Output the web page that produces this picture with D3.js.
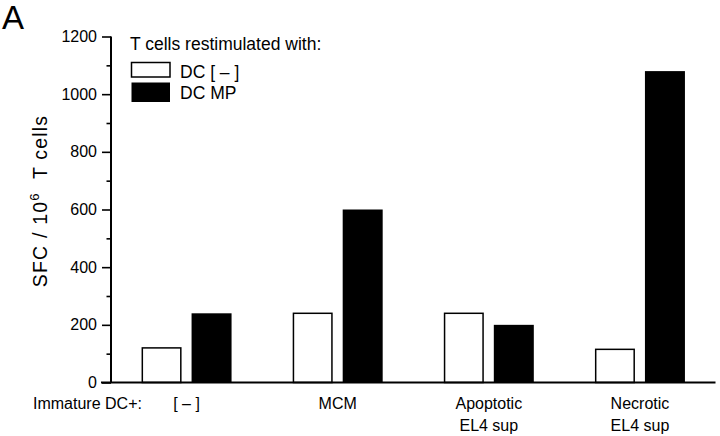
<!DOCTYPE html>
<html>
<head>
<meta charset="utf-8">
<script src="https://cdn.jsdelivr.net/npm/d3@7/dist/d3.min.js"></script>
<style>
  html, body { margin: 0; padding: 0; background: #fff; }
  svg { display: block; font-family: "Liberation Sans", Arial, Helvetica, sans-serif; }
</style>
</head>
<body>
<svg id="chart" width="720" height="436"></svg>
<script>
// ---- data ----
const categories = ["[ – ]", "MCM", "Apoptotic\nEL4 sup", "Necrotic\nEL4 sup"];
const seriesNames = ["DC [ – ]", "DC MP"];
const dcMinus = [120, 240, 240, 115];
const dcMP = [240, 600, 200, 1080];
const yTicks = [0, 100, 200, 300, 400, 500, 600, 700, 800, 900, 1000, 1100, 1200];
const yLabelTicks = [0, 200, 400, 600, 800, 1000, 1200];
const seriesFill = ["#ffffff", "#000000"];

const svg = d3.select("#chart");

const x = d3.scaleBand().domain(categories).range([111, 715.5]).padding(0);
const xs = d3.scaleBand().domain(seriesNames).range([0, 90]).paddingInner(0.2).paddingOuter(0);
const y = d3.scaleLinear().domain([0, 1200]).range([382.5, 36.5]);

// panel letter
svg.append("text").attr("x", 2).attr("y", 28.5)
  .attr("font-size", 33).text("A");

// y axis
const yAxis = d3.axisLeft(y)
  .tickValues(yTicks)
  .tickSize(9)
  .tickPadding(5)
  .tickFormat(d => yLabelTicks.includes(d) ? d : "");
const gy = svg.append("g").attr("transform", "translate(111,0)").call(yAxis);
gy.select(".domain").attr("stroke", "#000").attr("stroke-width", 2)
  .attr("d", `M0,${y(1200)}V${y(0)}`);
gy.selectAll(".tick line").attr("stroke", "#000").attr("stroke-width", 1.6)
  .attr("x2", d => yLabelTicks.includes(d) ? -9 : -4.5);
gy.selectAll(".tick text").attr("font-size", 16).attr("fill", "#000")
  .attr("font-family", "'Liberation Sans', Arial, sans-serif");

// y axis title
const yt = svg.append("text")
  .attr("transform", `translate(47,201) rotate(-90)`)
  .attr("text-anchor", "middle")
  .attr("font-size", 19.5)
  .attr("letter-spacing", 1.2);
yt.append("tspan").text("SFC / 10");
yt.append("tspan").attr("font-size", 13).attr("dy", -8).text("6");
yt.append("tspan").attr("dy", 8).text("\u00a0\u00a0T cells");

// bars
const groups = svg.append("g").selectAll("g")
  .data(categories.map((c, i) => ({ c, vals: [dcMinus[i], dcMP[i]] })))
  .join("g")
  .attr("transform", d => `translate(${x(d.c) + x.bandwidth() / 2 - 45},0)`);

groups.selectAll("rect")
  .data(d => d.vals.map((v, j) => ({ s: seriesNames[j], v, j })))
  .join("rect")
  .attr("x", d => xs(d.s) + (d.j === 0 ? 0.75 : 0))
  .attr("width", d => xs.bandwidth() - (d.j === 0 ? 1.5 : 0))
  .attr("y", d => y(d.v))
  .attr("height", d => y(0) - y(d.v))
  .attr("fill", d => seriesFill[d.j])
  .attr("stroke", d => d.j === 0 ? "#000" : "none")
  .attr("stroke-width", 1.5);

// x baseline
svg.append("line").attr("x1", 101).attr("x2", 715.5)
  .attr("y1", y(0)).attr("y2", y(0))
  .attr("stroke", "#000").attr("stroke-width", 2);

// category labels
const xl = svg.append("g").attr("font-size", 16).attr("text-anchor", "middle");
categories.forEach(c => {
  const lines = c.split("\n");
  const t = xl.append("text").attr("x", x(c) + x.bandwidth() / 2).attr("y", 408.5);
  lines.forEach((ln, k) => {
    t.append("tspan").attr("x", x(c) + x.bandwidth() / 2).attr("dy", k === 0 ? 0 : 22.5).text(ln);
  });
});
svg.append("text").attr("x", 33).attr("y", 408.5).attr("font-size", 16).text("Immature DC+:");

// legend
const lg = svg.append("g");
lg.append("text").attr("x", 130).attr("y", 50).attr("font-size", 17.5).text("T cells restimulated with:");
const legY = [62.5, 82.5];
const legH = [14.5, 19.5];
seriesNames.forEach((s, j) => {
  lg.append("rect").attr("x", 131.5).attr("y", legY[j]).attr("width", 38.5).attr("height", legH[j])
    .attr("fill", seriesFill[j]).attr("stroke", "#000").attr("stroke-width", j === 0 ? 1.5 : 0);
  lg.append("text").attr("x", 180).attr("y", j === 0 ? 77.5 : 98.5).attr("font-size", 17.5).text(s);
});
</script>
</body>
</html>
